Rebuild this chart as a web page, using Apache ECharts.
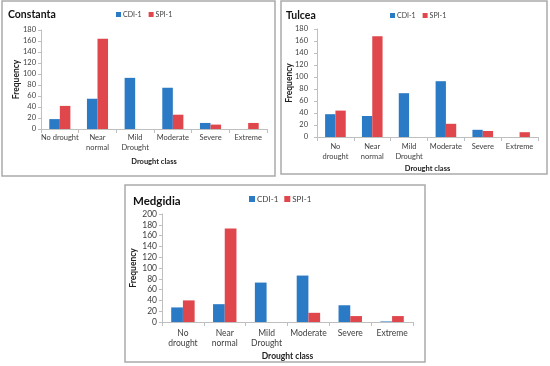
<!DOCTYPE html>
<html>
<head>
<meta charset="utf-8">
<script src="https://cdn.jsdelivr.net/npm/echarts@6/dist/echarts.min.js"></script>
<style>
html,body{margin:0;padding:0;background:#fff;}
#c{width:550px;height:366px;}
</style>
</head>
<body>
<div id="c"></div>
<script>
// ---- data ----
var categoriesConstanta = ['No drought', 'Near\nnormal', 'Mild\nDrought', 'Moderate', 'Severe', 'Extreme'];
var categoriesTulcea = ['No\ndrought', 'Near\nnormal', 'Mild\nDrought', 'Moderate', 'Severe', 'Extreme'];
var categoriesMedgidia = ['No\ndrought', 'Near\nnormal', 'Mild\nDrought', 'Moderate', 'Severe', 'Extreme'];

var constantaCDI = [18, 55, 93, 75, 11, 0];
var constantaSPI = [42, 164, 0, 26, 8, 11];
var tulceaCDI = [38, 35, 73, 93, 12, 0];
var tulceaSPI = [44, 168, 0, 22, 10, 8];
var medgidiaCDI = [27, 33, 73, 86, 31, 1];
var medgidiaSPI = [40, 173, 0, 17, 11, 11];

var stationNames = ['Constanta', 'Tulcea', 'Medgidia'];
var seriesNames = ['CDI-1', 'SPI-1'];
var yMax = [180, 180, 200];
var yInterval = 20;
var xAxisTitle = 'Drought class';
var yAxisTitle = 'Frequency';

// ---- styles ----
var BLUE = '#2A7AC6';
var RED = '#E0474C';
var FONT = 'Lato';
var AX = '#BFBFBF';
var TXT = '#404040';

var chart = echarts.init(document.getElementById('c'), null, {renderer: 'canvas'});

var grids = [
  {left: 41, right: 283, top: 30, bottom: 237},
  {left: 317, right: 12, top: 29, bottom: 229},
  {left: 162, right: 137, top: 214, bottom: 44}
];
var cats = [categoriesConstanta, categoriesTulcea, categoriesMedgidia];
var cdi = [constantaCDI, tulceaCDI, medgidiaCDI];
var spi = [constantaSPI, tulceaSPI, medgidiaSPI];
var tickFont = [7.5, 7.5, 8.5];
var nameFontX = [7.5, 7.5, 8.5];
var nameFontY = [8.5, 8.5, 8.5];
var yNameGap = [20, 23, 24];
var xNameGap = [29, 28, 30];
var xLabelMargin = [4, 5, 6];
var yLabelMargin = [5, 9, 5];

var xAxes = [], yAxes = [], series = [];
for (var i = 0; i < 3; i++) {
  xAxes.push({
    type: 'category', gridIndex: i, data: cats[i],
    name: xAxisTitle, nameLocation: 'middle', nameGap: xNameGap[i], nameMoveOverlap: false,
    nameTextStyle: {fontFamily: FONT, fontWeight: 'bold', fontSize: nameFontX[i], color: '#222'},
    axisLine: {lineStyle: {color: AX, width: 1}},
    axisTick: {show: true, length: 4, lineStyle: {color: AX}},
    axisLabel: {fontFamily: FONT, fontSize: tickFont[i], color: TXT, interval: 0, lineHeight: 10, margin: xLabelMargin[i]}
  });
  yAxes.push({
    type: 'value', gridIndex: i, min: 0, max: yMax[i], interval: yInterval,
    name: yAxisTitle, nameLocation: 'middle', nameGap: yNameGap[i], nameRotate: 90, nameMoveOverlap: false,
    nameTextStyle: {fontFamily: FONT, fontWeight: 'bold', fontSize: nameFontY[i], color: '#222'},
    axisLine: {show: true, lineStyle: {color: AX, width: 1}},
    axisTick: {show: true, length: 3, lineStyle: {color: AX}},
    splitLine: {show: false},
    axisLabel: {fontFamily: FONT, fontSize: tickFont[i], color: TXT, margin: yLabelMargin[i]}
  });
  series.push({
    name: seriesNames[0], type: 'bar', xAxisIndex: i, yAxisIndex: i, data: cdi[i],
    itemStyle: {color: BLUE}, barGap: '0%', barCategoryGap: '44%'
  });
  series.push({
    name: seriesNames[1], type: 'bar', xAxisIndex: i, yAxisIndex: i, data: spi[i],
    itemStyle: {color: RED}, barGap: '0%', barCategoryGap: '44%'
  });
}

function legendAt(left, top, fs, gap, sz) {
  return {
    data: seriesNames, orient: 'horizontal', left: left, top: top,
    itemWidth: sz, itemHeight: sz, itemGap: gap, icon: 'rect', padding: 0,
    textStyle: {fontFamily: FONT, fontSize: fs, color: TXT, padding: [0, 0, 0, -3]}
  };
}

chart.setOption({
  animation: false,
  backgroundColor: '#fff',
  title: [
    {text: stationNames[0], left: 3, top: 4, textStyle: {fontFamily: FONT, fontWeight: 'bold', fontSize: 10.5, color: '#111'}},
    {text: stationNames[1], left: 281, top: 5, textStyle: {fontFamily: FONT, fontWeight: 'bold', fontSize: 10.5, color: '#111'}},
    {text: stationNames[2], left: 128, top: 190, textStyle: {fontFamily: FONT, fontWeight: 'bold', fontSize: 11.5, color: '#111'}}
  ],
  legend: [legendAt(116, 11, 7, 7, 5), legendAt(390, 12, 7, 7, 5), legendAt(249, 195, 8, 6, 6)],
  grid: grids,
  xAxis: xAxes,
  yAxis: yAxes,
  series: series,
  graphic: [
    {type: 'rect', shape: {x: 2, y: 1, width: 273, height: 175}, style: {fill: 'none', stroke: '#ABABAB', lineWidth: 1.5}, z: 100},
    {type: 'rect', shape: {x: 281, y: 1, width: 266, height: 173}, style: {fill: 'none', stroke: '#ABABAB', lineWidth: 1.5}, z: 100},
    {type: 'rect', shape: {x: 125, y: 185, width: 300, height: 177}, style: {fill: 'none', stroke: '#ABABAB', lineWidth: 1.5}, z: 100}
  ]
});
</script>
</body>
</html>
